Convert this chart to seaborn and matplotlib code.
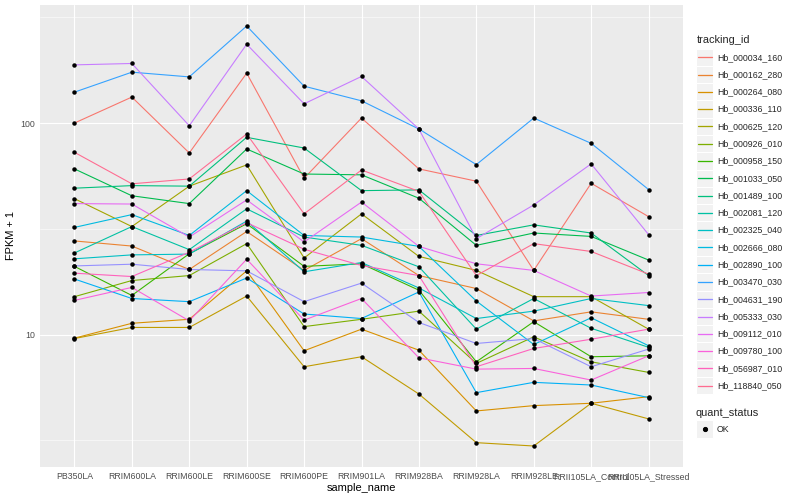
import numpy as np
import pandas as pd
import matplotlib
matplotlib.use("Agg")
import matplotlib.pyplot as plt
import seaborn as sns
from matplotlib.patches import Rectangle
from matplotlib.lines import Line2D
from matplotlib.ticker import FixedLocator, NullFormatter

# ---------------- data (FPKM + 1) ----------------
samples = ["PB350LA", "RRIM600LA", "RRIM600LE", "RRIM600SE", "RRIM600PE", "RRIM901LA",
           "RRIM928BA", "RRIM928LA", "RRIM928LE", "RRII105LA_Control", "RRII105LA_Stressed"]

tracking_ids = ["Hb_000034_160", "Hb_000162_280", "Hb_000264_080", "Hb_000336_110",
                "Hb_000625_120", "Hb_000926_010", "Hb_000958_150", "Hb_001033_050",
                "Hb_001489_100", "Hb_002081_120", "Hb_002325_040", "Hb_002666_080",
                "Hb_002890_100", "Hb_003470_030", "Hb_004631_190", "Hb_005333_030",
                "Hb_009112_010", "Hb_009780_100", "Hb_056987_010", "Hb_118840_050"]

hb_000034_160 = [100.0, 132.7, 72.2, 172.1, 54.8, 105.6, 60.7, 53.1, 20.1, 51.9, 36.1]
hb_000162_280 = [27.7, 26.2, 20.3, 30.7, 20.1, 28.4, 19.0, 16.5, 11.6, 12.8, 11.8]
hb_000264_080 = [9.61, 11.3, 11.8, 20.0, 8.38, 10.6, 8.43, 4.35, 4.61, 4.73, 5.08]
hb_000336_110 = [9.57, 10.8, 10.8, 15.2, 7.04, 7.85, 5.23, 3.08, 2.97, 4.73, 3.99]
hb_000625_120 = [43.9, 32.4, 50.3, 63.4, 23.0, 37.2, 23.4, 20.1, 15.1, 15.1, 10.6]
hb_000926_010 = [15.1, 18.0, 19.0, 26.9, 10.9, 11.8, 12.9, 7.30, 9.75, 7.43, 6.62]
hb_000958_150 = [21.0, 15.3, 24.1, 33.4, 21.0, 21.6, 16.2, 7.43, 11.5, 7.85, 7.93]
hb_001033_050 = [60.7, 45.3, 41.6, 75.4, 57.4, 56.9, 44.1, 26.4, 30.2, 29.1, 22.5]
hb_001489_100 = [49.2, 50.6, 50.3, 85.6, 76.2, 47.9, 48.3, 29.4, 33.0, 30.2, 19.0]
hb_002081_120 = [24.3, 32.4, 25.2, 39.3, 28.9, 26.4, 20.9, 10.6, 14.8, 10.7, 8.7]
hb_002325_040 = [22.8, 23.8, 24.0, 34.4, 19.8, 21.9, 16.6, 11.9, 12.9, 14.8, 13.7]
hb_002666_080 = [32.1, 36.9, 29.4, 47.9, 29.4, 28.9, 26.1, 14.4, 8.97, 12.0, 8.85]
hb_002890_100 = [18.3, 14.8, 14.3, 18.5, 12.5, 11.9, 15.9, 5.31, 5.94, 5.77, 5.03]
hb_003470_030 = [140.0, 174.0, 165.3, 287.7, 149.4, 127.4, 93.7, 63.6, 105.6, 80.2, 48.5]
hb_004631_190 = [21.1, 21.5, 20.3, 20.0, 14.3, 17.5, 11.4, 9.07, 9.57, 7.04, 8.53]
hb_005333_030 = [188.4, 191.3, 97.1, 235.9, 123.3, 166.1, 93.7, 28.4, 41.0, 64.1, 29.7]
hb_009112_010 = [41.6, 41.4, 28.9, 43.3, 27.4, 42.3, 26.1, 21.6, 20.1, 15.2, 15.8]
hb_009780_100 = [14.5, 16.7, 11.6, 22.7, 11.7, 14.8, 7.76, 6.86, 6.91, 6.09, 7.93]
hb_056987_010 = [19.5, 18.8, 24.5, 33.8, 25.3, 21.2, 19.0, 7.04, 8.59, 9.50, 10.6]
hb_118840_050 = [72.7, 51.6, 54.4, 88.8, 37.2, 60.0, 47.5, 19.0, 26.9, 24.7, 19.3]

series = [hb_000034_160, hb_000162_280, hb_000264_080, hb_000336_110, hb_000625_120,
          hb_000926_010, hb_000958_150, hb_001033_050, hb_001489_100, hb_002081_120,
          hb_002325_040, hb_002666_080, hb_002890_100, hb_003470_030, hb_004631_190,
          hb_005333_030, hb_009112_010, hb_009780_100, hb_056987_010, hb_118840_050]

palette = ["#F8766D", "#EA8331", "#D89000", "#C09B00", "#A3A500", "#7CAE00", "#39B600",
           "#00BB4E", "#00BF7D", "#00C1A3", "#00BFC4", "#00BAE0", "#00B0F6", "#35A2FF",
           "#9590FF", "#C77CFF", "#E76BF3", "#FA62DB", "#FF62BC", "#FF6C91"]

rows = []
for tid, vals in zip(tracking_ids, series):
    for s, v in zip(samples, vals):
        rows.append({"tracking_id": tid, "sample_name": s, "value": v, "quant_status": "OK"})
df = pd.DataFrame(rows)

# ---------------- style ----------------
sns.set_style("darkgrid", {"axes.facecolor": "#EBEBEB", "grid.color": "white"})
plt.rcParams["font.family"] = ["Liberation Sans", "DejaVu Sans"]

W, H = 800, 500
fig = plt.figure(figsize=(W / 72, H / 72), dpi=72)
fig.patch.set_facecolor("white")
pl, pr, pt, pb = 40, 683, 5, 467
ax = fig.add_axes([pl / W, 1 - pb / H, (pr - pl) / W, (pb - pt) / H])

sns.lineplot(data=df, x="sample_name", y="value", hue="tracking_id", hue_order=tracking_ids,
             palette=palette, estimator=None, sort=False, linewidth=1.1, legend=False,
             ax=ax, zorder=2)
sns.scatterplot(data=df, x="sample_name", y="value", color="black", s=20, linewidth=0,
                legend=False, ax=ax, zorder=3)

ax.set_yscale("log")
ax.set_xlim(-0.6, len(samples) - 1 + 0.6)
lo, hi = np.log10(df["value"].min()), np.log10(df["value"].max())
pad = 0.05 * (hi - lo)
ax.set_ylim(10 ** (lo - pad), 10 ** (hi + pad))

ax.set_xticks(range(len(samples)))
ax.set_xticklabels(samples)
ax.set_yticks([10, 100])
ax.set_yticklabels(["10", "100"])
ax.yaxis.set_minor_locator(FixedLocator([10 ** 0.5, 10 ** 1.5, 10 ** 2.5]))
ax.yaxis.set_minor_formatter(NullFormatter())
ax.tick_params(which="minor", length=0)
ax.tick_params(which="major", length=2.75, width=1.0, color="#333333",
               labelsize=8.8, labelcolor="#4D4D4D", pad=2.2)
ax.grid(which="major", color="white", linewidth=1.1)
ax.grid(which="minor", axis="y", color="white", linewidth=0.55)
ax.set_axisbelow(True)
for sp in ax.spines.values():
    sp.set_visible(False)

ax.set_xlabel("sample_name", fontsize=11, color="black", labelpad=2.5)
ax.set_ylabel("FPKM + 1", fontsize=11, color="black", labelpad=4)

# ---------------- legends ----------------
def fx(x):
    return x / W

def fy(y):
    return 1 - y / H

key = 17.28
fig.text(fx(697), fy(40), "tracking_id", fontsize=11, ha="left", va="center")
for i, (tid, col) in enumerate(zip(tracking_ids, palette)):
    cy = 57.3 + key * i
    fig.add_artist(Rectangle((fx(696), fy(cy + key / 2)), key / W, key / H,
                             facecolor="#F2F2F2", edgecolor="white", linewidth=1,
                             transform=fig.transFigure, zorder=1))
    fig.add_artist(Line2D([fx(697.5), fx(711.8)], [fy(cy), fy(cy)], color=col,
                          linewidth=1.3, transform=fig.transFigure, zorder=5))
    fig.text(fx(717), fy(cy), tid, fontsize=8.8, ha="left", va="center")

fig.text(fx(696), fy(412.5), "quant_status", fontsize=11, ha="left", va="center")
cy = 429
fig.add_artist(Rectangle((fx(696), fy(cy + key / 2)), key / W, key / H,
                         facecolor="#F2F2F2", edgecolor="white", linewidth=1,
                         transform=fig.transFigure, zorder=1))
fig.add_artist(Line2D([fx(704.6)], [fy(cy)], marker="o", markersize=4.2, color="black",
                      linestyle="none", transform=fig.transFigure, zorder=5))
fig.text(fx(717), fy(cy), "OK", fontsize=8.8, ha="left", va="center")

fig.savefig("out.png", dpi=72, facecolor="white")
